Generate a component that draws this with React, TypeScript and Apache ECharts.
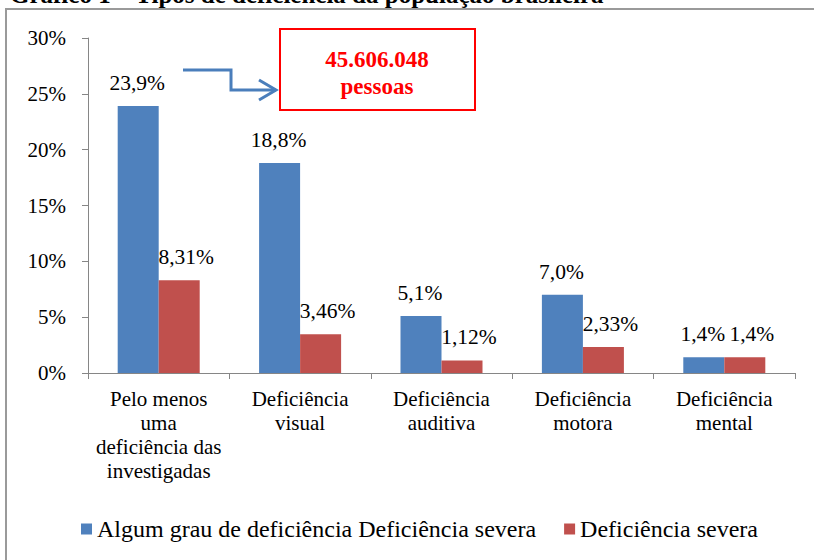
import React, { useEffect, useRef } from "react";
import * as echarts from "echarts";

const categories = [
  "Pelo menos\numa\ndeficiência das\ninvestigadas",
  "Deficiência\nvisual",
  "Deficiência\nauditiva",
  "Deficiência\nmotora",
  "Deficiência\nmental",
];
const seriesNames = ["Algum grau de deficiência Deficiência severa", "Deficiência severa"];
const algumGrau = [23.9, 18.8, 5.1, 7.0, 1.4];
const severa = [8.31, 3.46, 1.12, 2.33, 1.4];
const algumGrauLabels = ["23,9%", "18,8%", "5,1%", "7,0%", "1,4%"];
const severaLabels = ["8,31%", "3,46%", "1,12%", "2,33%", "1,4%"];
const yTicks = [0, 5, 10, 15, 20, 25, 30];
const titleText = "Gráfico 1 – Tipos de deficiência da população brasileira";
const boxLines = ["45.606.048", "pessoas"];

const FONT = "Liberation Serif";

export default function App() {
  const ref = useRef<HTMLDivElement>(null);
  useEffect(() => {
    if (!ref.current) return;
    const chart = echarts.init(ref.current, undefined, { renderer: "svg" });
    const labelStyle = { show: true, position: "top", distance: 12, fontSize: 21.5, fontFamily: FONT, color: "#000" };
    chart.setOption({
      animation: false,
      backgroundColor: "#fff",
      grid: { left: 88, right: 19, top: 38, bottom: 187, containLabel: false },
      xAxis: {
        type: "category",
        data: categories,
        axisLine: { lineStyle: { color: "#868686", width: 1 } },
        axisTick: { show: true, alignWithLabel: false, length: 6, lineStyle: { color: "#868686" } },
        axisLabel: { fontSize: 21, fontFamily: FONT, color: "#000", lineHeight: 24, margin: 14, interval: 0 },
      },
      yAxis: {
        type: "value",
        min: yTicks[0],
        max: yTicks[yTicks.length - 1],
        interval: 5,
        splitLine: { show: false },
        axisLine: { show: true, lineStyle: { color: "#868686", width: 1 } },
        axisTick: { show: true, length: 6, lineStyle: { color: "#868686" } },
        axisLabel: { fontSize: 21, fontFamily: FONT, color: "#000", margin: 22, formatter: (v: number) => `${v}%` },
      },
      legend: {
        left: 76,
        top: 512,
        icon: "rect",
        itemWidth: 11,
        itemHeight: 11,
        itemGap: 28,
        textStyle: { fontSize: 24, fontFamily: FONT, color: "#000" },
        data: seriesNames,
      },
      series: [
        {
          name: seriesNames[0],
          type: "bar",
          data: algumGrau,
          barGap: "0%",
          barCategoryGap: "42%",
          itemStyle: { color: "#4F81BD" },
          label: { ...labelStyle, offset: [-1, 0], formatter: (p: any) => algumGrauLabels[p.dataIndex] },
        },
        {
          name: seriesNames[1],
          type: "bar",
          data: severa,
          barGap: "0%",
          barCategoryGap: "42%",
          itemStyle: { color: "#C0504D" },
          label: { ...labelStyle, offset: [7, 0], formatter: (p: any) => severaLabels[p.dataIndex] },
        },
      ],
      graphic: [
        {
          type: "rect",
          silent: true,
          z: -1,
          shape: { x: 6, y: 9, width: 830, height: 600 },
          style: { fill: "none", stroke: "#9a9a9a", lineWidth: 2 },
        },
        {
          type: "text",
          x: 10,
          y: 7,
          style: {
            text: titleText,
            font: `bold 25px ${FONT}`,
            fill: "#000",
            verticalAlign: "bottom",
          },
        },
        {
          type: "rect",
          shape: { x: 280, y: 29, width: 195, height: 81 },
          style: { fill: "#fff", stroke: "#ff0000", lineWidth: 2 },
        },
        {
          type: "text",
          x: 377,
          y: 59,
          style: { text: boxLines[0], font: `bold 23px ${FONT}`, fill: "#ff0000", align: "center", verticalAlign: "middle" },
        },
        {
          type: "text",
          x: 377,
          y: 86,
          style: { text: boxLines[1], font: `bold 23px ${FONT}`, fill: "#ff0000", align: "center", verticalAlign: "middle" },
        },
        {
          type: "polyline",
          shape: { points: [[183, 70], [231, 70], [231, 90], [276, 90]] },
          style: { stroke: "#4A7EBB", lineWidth: 3, fill: "none" },
        },
        {
          type: "polyline",
          shape: { points: [[259, 80], [276, 90], [259, 100]] },
          style: { stroke: "#4A7EBB", lineWidth: 3, fill: "none" },
        },
      ],
    });
    return () => chart.dispose();
  }, []);
  return (
    <div
      ref={ref}
      style={{ position: "fixed", left: 0, top: 0, width: 814, height: 560, background: "#fff" }}
    />
  );
}
